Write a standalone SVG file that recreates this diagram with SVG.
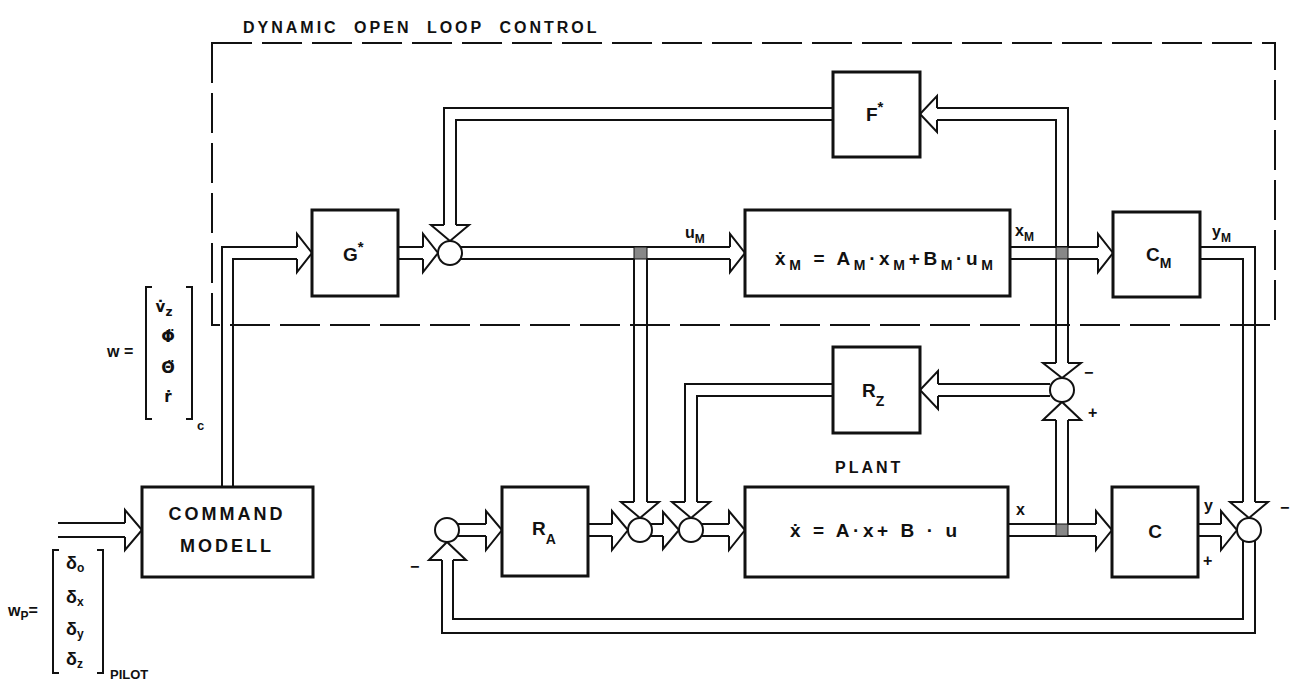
<svg xmlns="http://www.w3.org/2000/svg" width="1300" height="683" viewBox="0 0 1300 683">
<style>
.ln{fill:none;stroke:#111;stroke-width:2}
.ah{fill:#fff;stroke:#111;stroke-width:2;stroke-linejoin:miter}
.box{fill:#fff;stroke:#111;stroke-width:3}
.jc{fill:#fff;stroke:#111;stroke-width:2}
.sh{fill:#888;stroke:#111;stroke-width:1}
.dash{fill:none;stroke:#111;stroke-width:2;stroke-dasharray:40 10}
.t{font-family:"Liberation Sans",Arial,"DejaVu Sans",sans-serif;font-weight:bold;fill:#111}
.dv{font-family:"DejaVu Sans",sans-serif;font-weight:bold;fill:#111}
.s{font-size:13px}
.big{font-size:19px}
.lab{font-size:16px}
</style>
<rect width="1300" height="683" fill="#fff"/>

<g id="open-loop-frame">
<rect class="dash" x="212" y="43" width="1063" height="282"/>
<text class="t" x="243" y="33" font-size="16" letter-spacing="3" word-spacing="8">DYNAMIC OPEN LOOP CONTROL</text>
</g>

<g id="connectors">
<!-- pilot input to command modell -->
<path class="ln" d="M58,523H125M58,537H125"/>
<path class="ah" d="M125,523V510L142,530L125,550V537"/>
<!-- command modell to G* -->
<path class="ln" d="M222,487V247H297M233,487V259H297"/>
<path class="ah" d="M297,247V234L312,253L297,272V259"/>
<!-- G* to J1 -->
<path class="ln" d="M398,247H423M398,259H423"/>
<path class="ah" d="M423,247V234L438,253L423,272V259"/>
<!-- F* to J1 -->
<path class="ln" d="M833,108H444V225M833,120H456V225"/>
<path class="ah" d="M444,225H431L450,241L469,225H456"/>
<!-- J1 to model -->
<path class="ln" d="M461,247H730M461,259H634M647,259H730"/>
<path class="ah" d="M730,247V234L745,253L730,272V259"/>
<!-- u_M branch down to J2 -->
<path class="ln" d="M634,259V502M647,259V502"/>
<path class="ah" d="M634,502H621L640,518L659,502H647"/>
<rect class="sh" x="634" y="247" width="13" height="12"/>
<!-- model to C_M -->
<path class="ln" d="M1010,247H1098M1010,259H1056M1068,259H1098"/>
<path class="ah" d="M1098,247V234L1113,253L1098,272V259"/>
<!-- x_M up to F* -->
<path class="ln" d="M1068,247V108H937M1056,247V120H937"/>
<path class="ah" d="M937,108V96L920,114L937,132V120"/>
<!-- x_M down to RZ junction -->
<path class="ln" d="M1056,259V363M1068,259V363"/>
<path class="ah" d="M1056,363H1043L1062,378L1081,363H1068"/>
<rect class="sh" x="1056" y="247" width="12" height="12"/>
<!-- plant to C -->
<path class="ln" d="M1008,524H1056M1068,524H1096M1008,536H1096"/>
<path class="ah" d="M1096,524V511L1112,530L1096,550V536"/>
<!-- x up to RZ junction -->
<path class="ln" d="M1056,524V420M1068,524V420"/>
<path class="ah" d="M1056,420H1043L1062,402L1081,420H1068"/>
<rect class="sh" x="1056" y="524" width="12" height="12"/>
<!-- RZ junction to R_Z -->
<path class="ln" d="M1050,384H938M1050,396H938"/>
<path class="ah" d="M938,384V371L920,390L938,409V396"/>
<!-- R_Z to J3 -->
<path class="ln" d="M833,384H685V502M833,396H697V502"/>
<path class="ah" d="M685,502H672L691,518L710,502H697"/>
<!-- J0 to R_A -->
<path class="ln" d="M457,524H486M457,536H486"/>
<path class="ah" d="M486,524V511L502,530L486,550V536"/>
<!-- R_A to J2 -->
<path class="ln" d="M588,524H612M588,536H612"/>
<path class="ah" d="M612,524V511L628,530L612,550V536"/>
<!-- J2 to J3 -->
<path class="ln" d="M650,524H663M650,536H663"/>
<path class="ah" d="M663,524V512L679,530L663,549V536"/>
<!-- J3 to plant -->
<path class="ln" d="M701,524H729M701,536H729"/>
<path class="ah" d="M729,524V511L745,530L729,550V536"/>
<!-- C_M to J4 -->
<path class="ln" d="M1200,247H1255V502M1200,259H1243V502"/>
<path class="ah" d="M1243,502H1230L1249,518L1268,502H1255"/>
<!-- C to J4 -->
<path class="ln" d="M1198,524H1221M1198,536H1221"/>
<path class="ah" d="M1221,524V511L1237,530L1221,550V536"/>
<!-- feedback J4 to J0 -->
<path class="ln" d="M1255,540V633H442V560M1243,540V619H453V560"/>
<path class="ah" d="M442,560H429L447,542L466,560H453"/>
</g>

<g id="junction-j1"><circle class="jc" cx="450" cy="253" r="12"/></g>
<g id="junction-rz"><circle class="jc" cx="1062" cy="390" r="12"/></g>
<g id="junction-j0"><circle class="jc" cx="447" cy="530" r="12"/></g>
<g id="junction-j2"><circle class="jc" cx="640" cy="530" r="12"/></g>
<g id="junction-j3"><circle class="jc" cx="691" cy="530" r="12"/></g>
<g id="junction-j4"><circle class="jc" cx="1249" cy="530" r="12"/></g>

<g id="node-g">
<rect class="box" x="312" y="210" width="86" height="86"/>
<text class="t big" x="343" y="261">G<tspan font-size="15" dy="-9">*</tspan></text>
</g>

<g id="node-f">
<rect class="box" x="833" y="72" width="87" height="85"/>
<text class="t big" x="866" y="121">F<tspan font-size="15" dy="-9">*</tspan></text>
</g>

<g id="node-model">
<rect class="box" x="745" y="210" width="265" height="86"/>
<text class="t big" x="775" y="265" textLength="218" lengthAdjust="spacing">ẋ<tspan font-size="14" dy="5">M</tspan><tspan dy="-5"> = A</tspan><tspan font-size="14" dy="5">M</tspan><tspan dy="-5">·x</tspan><tspan font-size="14" dy="5">M</tspan><tspan dy="-5">+B</tspan><tspan font-size="14" dy="5">M</tspan><tspan dy="-5">·u</tspan><tspan font-size="14" dy="5">M</tspan></text>
</g>

<g id="node-cm">
<rect class="box" x="1113" y="212" width="87" height="85"/>
<text class="t big" x="1146" y="261">C<tspan font-size="14" dy="7">M</tspan></text>
</g>

<g id="node-rz">
<rect class="box" x="833" y="347" width="87" height="86"/>
<text class="t big" x="862" y="397">R<tspan font-size="14" dy="9">Z</tspan></text>
</g>

<g id="node-command">
<rect class="box" x="142" y="487" width="171" height="90"/>
<text class="t" x="227" y="520" font-size="18" letter-spacing="3" text-anchor="middle">COMMAND</text>
<text class="t" x="227" y="552" font-size="18" letter-spacing="3" text-anchor="middle">MODELL</text>
</g>

<g id="node-ra">
<rect class="box" x="502" y="487" width="86" height="89"/>
<text class="t big" x="532" y="535">R<tspan font-size="14" dy="9">A</tspan></text>
</g>

<g id="node-plant">
<rect class="box" x="745" y="487" width="263" height="90"/>
<text class="t" x="835" y="473" font-size="16" letter-spacing="3">PLANT</text>
<text class="t big" x="790" y="537" textLength="167" lengthAdjust="spacing">ẋ = A·x+ B · u</text>
</g>

<g id="node-c">
<rect class="box" x="1112" y="487" width="86" height="90"/>
<text class="t big" x="1155" y="538" text-anchor="middle">C</text>
</g>

<g id="labels">
<text class="t lab" x="685" y="238">u<tspan font-size="12" dy="5">M</tspan></text>
<text class="t lab" x="1015" y="236">x<tspan font-size="12" dy="5">M</tspan></text>
<text class="t lab" x="1212" y="237">y<tspan font-size="12" dy="5">M</tspan></text>
<text class="t lab" x="1016" y="515">x</text>
<text class="t lab" x="1204" y="511">y</text>
<text class="t lab" x="1203" y="566">+</text>
<text class="t lab" x="1280" y="513">−</text>
<text class="t lab" x="1084" y="378">−</text>
<text class="t lab" x="1088" y="418">+</text>
<text class="t lab" x="410" y="572">−</text>
</g>

<g id="w-vector">
<text class="t lab" x="107" y="357">w =</text>
<path class="ln" d="M152,287H146V419H152M186,287H192V419H186"/>
<text class="dv" font-size="15" x="164" y="312" text-anchor="middle">v̇<tspan font-size="12" dy="4">z</tspan></text>
<text class="dv" font-size="16" x="168" y="342" text-anchor="middle">Φ̈</text>
<text class="dv" font-size="16" x="168" y="373" text-anchor="middle">Θ̈</text>
<text class="dv" font-size="15" x="168" y="402" text-anchor="middle">ṙ</text>
<text class="t" x="197" y="430" font-size="13">c</text>
</g>

<g id="wp-vector">
<text class="t lab" x="8" y="616">w<tspan font-size="12" dy="4">P</tspan><tspan dy="-4">=</tspan></text>
<path class="ln" d="M59,550H53V673H59M97,550H103V673H97"/>
<text class="t" font-size="18" x="66" y="569">δ<tspan font-size="12" dy="3">o</tspan></text>
<text class="t" font-size="18" x="66" y="603">δ<tspan font-size="12" dy="3">x</tspan></text>
<text class="t" font-size="18" x="66" y="635">δ<tspan font-size="12" dy="3">y</tspan></text>
<text class="t" font-size="18" x="66" y="665">δ<tspan font-size="12" dy="3">z</tspan></text>
<text class="t s" x="110" y="679">PILOT</text>
</g>
</svg>
